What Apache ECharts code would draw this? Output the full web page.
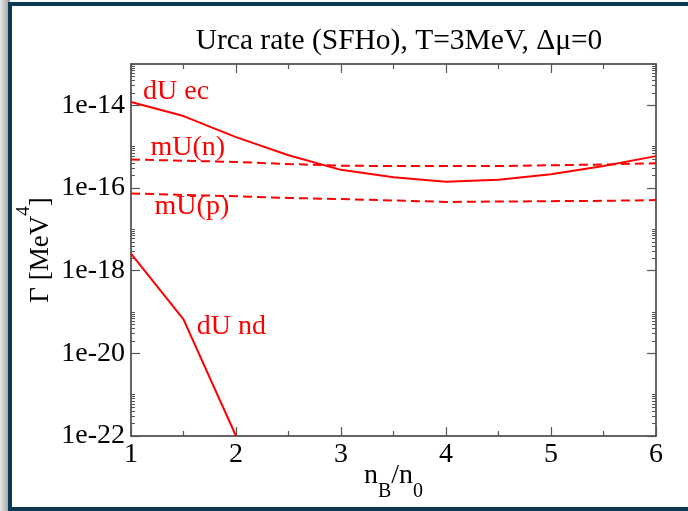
<!DOCTYPE html>
<html>
<head>
<meta charset="utf-8">
<script src="https://cdn.jsdelivr.net/npm/echarts@6/dist/echarts.min.js"></script>
<style>
  html, body { margin: 0; padding: 0; background: #fff; overflow: hidden; }
  #shadow { position: absolute; left: 0; top: 0; width: 10px; height: 511px;
            background: linear-gradient(to right, #e6e6e6, #9a9a9a); }
  #frame { position: absolute; left: 8px; top: 2px; width: 700px; height: 501px;
           border: 4px solid #0c3853; background: #fff; }
  #chart { position: absolute; left: 0; top: 0; width: 688px; height: 511px; }
</style>
</head>
<body>
<div id="shadow"></div>
<div id="frame"></div>
<div id="chart"></div>
<script>
// ---- data ----
const nB = [1, 1.5, 2, 2.5, 3, 3.5, 4, 4.5, 5, 5.5, 6];
const dUec = [1.20e-14, 5.50e-15, 1.70e-15, 6.2e-16, 2.75e-16, 1.82e-16, 1.41e-16, 1.58e-16, 2.14e-16, 3.39e-16, 5.9e-16];
const mUn  = [4.9e-16, 4.57e-16, 4.27e-16, 3.8e-16, 3.47e-16, 3.39e-16, 3.39e-16, 3.39e-16, 3.55e-16, 3.7e-16, 3.98e-16];
const mUp  = [7.4e-17, 6.8e-17, 6.3e-17, 5.75e-17, 5.4e-17, 5.0e-17, 4.6e-17, 4.7e-17, 4.8e-17, 4.9e-17, 5.1e-17];
const nBnd = [1, 1.5, 2];
const dUnd = [2.6e-18, 6.6e-20, 1e-22];
const yMajor = [1e-22, 1e-20, 1e-18, 1e-16, 1e-14];
const yMinorDecades = [-22, -20, -18, -16, -14];
const curveNames = ['dU ec', 'mU(n)', 'mU(p)', 'dU nd'];
const labelPos = [[1.43, 2.15e-14], [1.54, 9.3e-16], [1.58, 3.6e-17], [1.955, 4.4e-20]];

// minor tick values: 2..10 x 10^e for the listed decades
const yMinor = [];
yMinorDecades.forEach(e => { for (let k = 2; k <= 10; k++) yMinor.push(k * Math.pow(10, e)); });

const FONT = '"Liberation Serif", "Times New Roman", serif';
const RED = '#ff0000';
const AX = '#333';
const TK = '#555';

function pairs(xs, ys) { return xs.map((x, i) => [x, ys[i]]); }

function labelPoint(i) {
  return {
    symbol: 'circle', symbolSize: 0.1, silent: true,
    itemStyle: { color: 'rgba(0,0,0,0)' },
    label: { show: true, position: 'inside', formatter: curveNames[i],
             color: RED, fontFamily: FONT, fontSize: 28 },
    data: [{ coord: labelPos[i] }]
  };
}

const chart = echarts.init(document.getElementById('chart'), null, { renderer: 'canvas' });

const yBase = { type: 'log', logBase: 10, min: 1e-22, max: 1e-13, splitLine: { show: false },
                minorTick: { show: false }, minorSplitLine: { show: false } };

chart.setOption({
  backgroundColor: 'transparent',
  animation: false,
  title: {
    text: 'Urca rate (SFHo), T=3MeV, \u0394\u03bc=0',
    left: 394, textAlign: 'center', top: 21,
    textStyle: { fontFamily: FONT, fontSize: 29.5, fontWeight: 'normal', color: '#000' }
  },
  grid: { left: 131, right: 32, top: 64, bottom: 75, containLabel: false },
  xAxis: [
    { type: 'value', position: 'bottom', min: 1, max: 6, interval: 1,
      axisLine: { show: true, onZero: false, lineStyle: { color: AX, width: 1.5 } },
      axisTick: { show: true, inside: true, length: 9, lineStyle: { color: TK, width: 1.2 } },
      minorTick: { show: true, splitNumber: 2, length: 5, lineStyle: { color: TK, width: 1.2 } },
      splitLine: { show: false },
      axisLabel: { show: true, margin: 5, color: '#000', fontFamily: FONT, fontSize: 28 },
      name: '{a|n}{s|B}{a|/n}{s|0}', nameLocation: 'middle', nameGap: 26, nameMoveOverlap: false,
      nameTextStyle: { rich: {
        a: { fontFamily: FONT, fontSize: 28, lineHeight: 28, verticalAlign: 'top', color: '#000' },
        s: { fontFamily: FONT, fontSize: 20, lineHeight: 40, verticalAlign: 'bottom', color: '#000' }
      } }
    },
    { type: 'value', position: 'top', min: 1, max: 6, interval: 1,
      axisLine: { show: true, onZero: false, lineStyle: { color: AX, width: 1.5 } },
      axisTick: { show: true, inside: true, length: 9, lineStyle: { color: TK, width: 1.2 } },
      minorTick: { show: true, splitNumber: 2, length: 5, lineStyle: { color: TK, width: 1.2 } },
      splitLine: { show: false }, axisLabel: { show: false }
    }
  ],
  yAxis: [
    Object.assign({}, yBase, {
      position: 'left', offset: 0,
      axisLine: { show: true, lineStyle: { color: AX, width: 1.5 } },
      axisTick: { show: true, inside: true, length: 9, customValues: yMajor, lineStyle: { color: TK, width: 1.2 } },
      axisLabel: { show: true, customValues: yMajor, margin: 6, color: '#000', fontFamily: FONT, fontSize: 28,
                   padding: [5, 0, 0, 0],
                   formatter: v => '1e' + Math.round(Math.log10(v)) },
      name: '{a|\u0393 [MeV}{p|4}{a|]}', nameLocation: 'middle', nameGap: 77, nameMoveOverlap: false,
      nameTextStyle: { rich: {
        a: { fontFamily: FONT, fontSize: 27, lineHeight: 27, verticalAlign: 'bottom', color: '#000' },
        p: { fontFamily: FONT, fontSize: 19, lineHeight: 39, verticalAlign: 'top', color: '#000' }
      } }
    }),
    Object.assign({}, yBase, {
      position: 'left', offset: 0,
      axisLine: { show: false },
      axisTick: { show: true, inside: true, length: 4, customValues: yMinor, lineStyle: { color: TK, width: 1 } },
      axisLabel: { show: false }
    }),
    Object.assign({}, yBase, {
      position: 'right', offset: 0,
      axisLine: { show: true, lineStyle: { color: AX, width: 1.5 } },
      axisTick: { show: true, inside: true, length: 9, customValues: yMajor, lineStyle: { color: TK, width: 1.2 } },
      axisLabel: { show: false }
    }),
    Object.assign({}, yBase, {
      position: 'right', offset: 0,
      axisLine: { show: false },
      axisTick: { show: true, inside: true, length: 4, customValues: yMinor, lineStyle: { color: TK, width: 1 } },
      axisLabel: { show: false }
    })
  ],
  series: [
    { name: curveNames[0], type: 'line', xAxisIndex: 0, yAxisIndex: 0, data: pairs(nB, dUec),
      symbol: 'none', lineStyle: { color: RED, width: 2 }, clip: true, markPoint: labelPoint(0) },
    { name: curveNames[1], type: 'line', xAxisIndex: 0, yAxisIndex: 0, data: pairs(nB, mUn),
      symbol: 'none', lineStyle: { color: RED, width: 2, type: [9, 5] }, clip: true, markPoint: labelPoint(1) },
    { name: curveNames[2], type: 'line', xAxisIndex: 0, yAxisIndex: 0, data: pairs(nB, mUp),
      symbol: 'none', lineStyle: { color: RED, width: 2, type: [9, 5] }, clip: true, markPoint: labelPoint(2) },
    { name: curveNames[3], type: 'line', xAxisIndex: 0, yAxisIndex: 0, data: pairs(nBnd, dUnd),
      symbol: 'none', lineStyle: { color: RED, width: 2 }, clip: true, markPoint: labelPoint(3) }
  ]
});
</script>
</body>
</html>
